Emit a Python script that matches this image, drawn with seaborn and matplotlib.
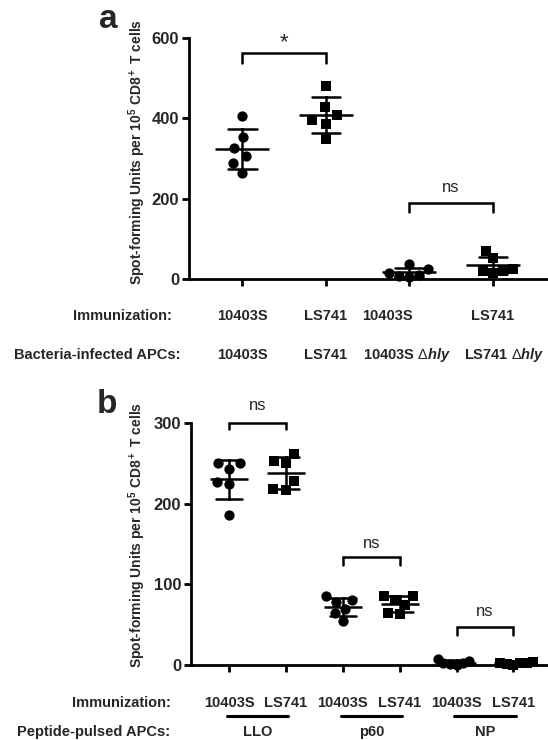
import numpy as np
import pandas as pd
import matplotlib
matplotlib.use("Agg")
import matplotlib.pyplot as plt
import seaborn as sns
from matplotlib.transforms import blended_transform_factory

# ---------------- data ----------------
# Panel a
a_groups = ["g1", "g2", "g3", "g4"]
a_immunization = ["10403S", "LS741", "10403S", "LS741"]
a_apc_strain = ["10403S", "LS741", "10403S", "LS741"]
a_apc_dhly = [False, False, True, True]
a_10403S = [405, 353, 326, 305, 290, 264]
a_LS741 = [480, 428, 409, 397, 387, 349]
a_10403S_dhly = [37, 24, 15, 10, 8, 5]
a_LS741_dhly = [70, 52, 24, 20, 20, 16]
a_yticks = [0, 200, 400, 600]
a_sig = [(0, 1, "*"), (2, 3, "ns")]

# Panel b
b_groups = ["LLO_1", "LLO_2", "p60_1", "p60_2", "NP_1", "NP_2"]
b_immunization = ["10403S", "LS741", "10403S", "LS741", "10403S", "LS741"]
b_peptides = ["LLO", "p60", "NP"]
b_LLO_10403S = [251, 250, 243, 227, 224, 186]
b_LLO_LS741 = [262, 253, 251, 228, 218, 217]
b_p60_10403S = [85, 81, 78, 70, 64, 54]
b_p60_LS741 = [86, 85, 80, 75, 65, 63]
b_NP_10403S = [7, 5, 3, 2, 1, 0]
b_NP_LS741 = [4, 3, 2, 2, 1, 0]
b_yticks = [0, 100, 200, 300]
b_sig = [(0, 1, "ns"), (2, 3, "ns"), (4, 5, "ns")]

ylabel_text = "Spot-forming Units per 10$^5$ CD8$^+$ T cells"


def frame(groups, series):
    rows = []
    for g, vals in zip(groups, series):
        for v in vals:
            rows.append({"group": g, "value": v})
    return pd.DataFrame(rows)


df_a = frame(a_groups, [a_10403S, a_LS741, a_10403S_dhly, a_LS741_dhly])
df_b = frame(b_groups, [b_LLO_10403S, b_LLO_LS741, b_p60_10403S, b_p60_LS741,
                        b_NP_10403S, b_NP_LS741])

# ---------------- style ----------------
sns.set_style("ticks")
plt.rcParams["font.family"] = ["Liberation Sans", "DejaVu Sans"]
plt.rcParams["mathtext.fontset"] = "custom"
plt.rcParams["mathtext.rm"] = "Liberation Sans:bold"
plt.rcParams["mathtext.bf"] = "Liberation Sans:bold"
plt.rcParams["mathtext.it"] = "Liberation Sans:italic:bold"
plt.rcParams["mathtext.sf"] = "Liberation Sans"
plt.rcParams["mathtext.default"] = "rm"

W, H = 548, 740
fig = plt.figure(figsize=(W / 100, H / 100), dpi=100)
fig.patch.set_facecolor("white")


def px_rect(l, t, r, b):
    return [l / W, 1 - b / H, (r - l) / W, (b - t) / H]


def fy(y):
    return 1 - y / H


ax_a = fig.add_axes(px_rect(189, 38, 547, 279))
ax_b = fig.add_axes(px_rect(191, 423, 547, 665))

LW = 1.8
MARKER_SIZE = {"o": 7.4, "s": 6.7}   # visible marker size (pt)
swarm_points = []                    # (collection, marker) for later sizing


def draw_panel(ax, df, groups, immun, collide, cap, mean_len):
    for g, imm, cs in zip(groups, immun, collide):
        mk = "o" if imm == "10403S" else "s"
        sub = df[df["group"] == g]
        n0 = len(ax.collections)
        # swarm layout computed with a collision diameter `cs` (pt)
        sns.swarmplot(data=sub, x="group", y="value", order=groups, color="black",
                      marker=mk, size=cs, linewidth=0, zorder=3,
                      warn_thresh=1.0, ax=ax)
        for c in ax.collections[n0:]:
            swarm_points.append((c, mk))
    sns.pointplot(data=df, x="group", y="value", order=groups, estimator="mean",
                  errorbar="sd", color="black", marker="_", markersize=mean_len,
                  markeredgewidth=LW, linestyle="none", capsize=cap,
                  err_kws={"linewidth": LW}, zorder=4, ax=ax)


def style_axis(ax, yticks, xlim):
    n = len(ax.get_xticks())
    ax.set_xticks(range(n))
    ax.set_xticklabels([""] * n)
    ax.set_xlim(*xlim)
    ax.set_ylim(yticks[0], yticks[-1])
    ax.set_yticks(yticks)
    ax.set_yticklabels([str(t) for t in yticks], fontsize=12, fontweight="bold")
    ax.set_xlabel("")
    ax.set_ylabel("")
    sns.despine(ax=ax)
    for s in ("left", "bottom"):
        ax.spines[s].set_linewidth(2)
        ax.spines[s].set_color("black")
    ax.tick_params(axis="both", width=2, length=5, color="black", pad=2)
    ax.set_facecolor("white")


def brackets(ax, sig, specs, fontsizes):
    for (i, j, lab), (ytop, ydrop, ylab), fs in zip(sig, specs, fontsizes):
        ax.plot([i, i, j, j], [ydrop, ytop, ytop, ydrop], color="black", lw=LW,
                clip_on=False, solid_joinstyle="miter")
        ax.text((i + j) / 2, ylab, lab, ha="center", va="center", fontsize=fs,
                fontweight="normal")


# ---------------- panel a ----------------
draw_panel(ax_a, df_a, a_groups, a_immunization, [10, 10, 7, 7], cap=0.34, mean_len=39)
style_axis(ax_a, a_yticks, (-0.64, 3.65))
brackets(ax_a, a_sig, [(563, 539, 588), (189, 168, 227)], [16, 12])

# ---------------- panel b ----------------
draw_panel(ax_b, df_b, b_groups, b_immunization, [8.6, 8.6, 8, 8, 4.6, 4.6],
           cap=0.46, mean_len=27)
style_axis(ax_b, b_yticks, (-0.67, 5.59))
brackets(ax_b, b_sig, [(300, 292, 322), (134, 124, 151), (47, 37, 66)], [12, 12, 12])

# compute the swarm layout once, then freeze it and set the visible marker size
fig.canvas.draw()
for c, mk in swarm_points:
    if len(c.get_offsets()) == 0:
        c.remove()
        continue
    if "draw" in c.__dict__:
        del c.draw
    c.set_sizes([MARKER_SIZE[mk] ** 2])
    c.set_clip_on(False)

# ---------------- category rows ----------------
txt_kw = dict(fontsize=10.5, fontweight="bold", va="center")
tr_a = blended_transform_factory(ax_a.transData, fig.transFigure)
fig.text(172 / W, fy(316), "Immunization:", ha="right", **txt_kw)
fig.text(181 / W, fy(355), "Bacteria-infected APCs:", ha="right", **txt_kw)
row1_shift = [None, None, -0.56, None]
row2_shift = [None, None, -0.56, -0.34]
for i, (imm, apc, dh) in enumerate(zip(a_immunization, a_apc_strain, a_apc_dhly)):
    if row1_shift[i] is None:
        fig.text(i, fy(316), imm, ha="center", transform=tr_a, **txt_kw)
    else:
        fig.text(i + row1_shift[i], fy(316), imm, ha="left", transform=tr_a, **txt_kw)
    lab = apc + (r" $\mathsf{\Delta}\mathit{hly}$" if dh else "")
    if row2_shift[i] is None:
        fig.text(i, fy(355), lab, ha="center", transform=tr_a, **txt_kw)
    else:
        fig.text(i + row2_shift[i], fy(355), lab, ha="left", transform=tr_a, **txt_kw)

tr_b = blended_transform_factory(ax_b.transData, fig.transFigure)
fig.text(171 / W, fy(703), "Immunization:", ha="right", **txt_kw)
fig.text(170 / W, fy(732), "Peptide-pulsed APCs:", ha="right", **txt_kw)
for i, imm in enumerate(b_immunization):
    fig.text(i, fy(703), imm, ha="center", transform=tr_b, **txt_kw)
for k, pep in enumerate(b_peptides):
    c = 2 * k + 0.5
    fig.add_artist(plt.Line2D([c - 0.54, c + 0.54], [fy(716), fy(716)], transform=tr_b,
                              color="black", lw=2.2))
    fig.text(c, fy(732), pep, ha="center", transform=tr_b, **txt_kw)

# ---------------- y labels & panel letters ----------------
for yc in (152, 535):
    fig.text(137 / W, fy(yc), ylabel_text, rotation=90, ha="center", va="center",
             fontsize=10, fontweight="bold")
fig.text(108 / W, fy(20), "a", ha="center", va="center", fontsize=24, fontweight="bold")
fig.text(107 / W, fy(405), "b", ha="center", va="center", fontsize=24, fontweight="bold")

fig.savefig("out.png", dpi=100, facecolor="white")
